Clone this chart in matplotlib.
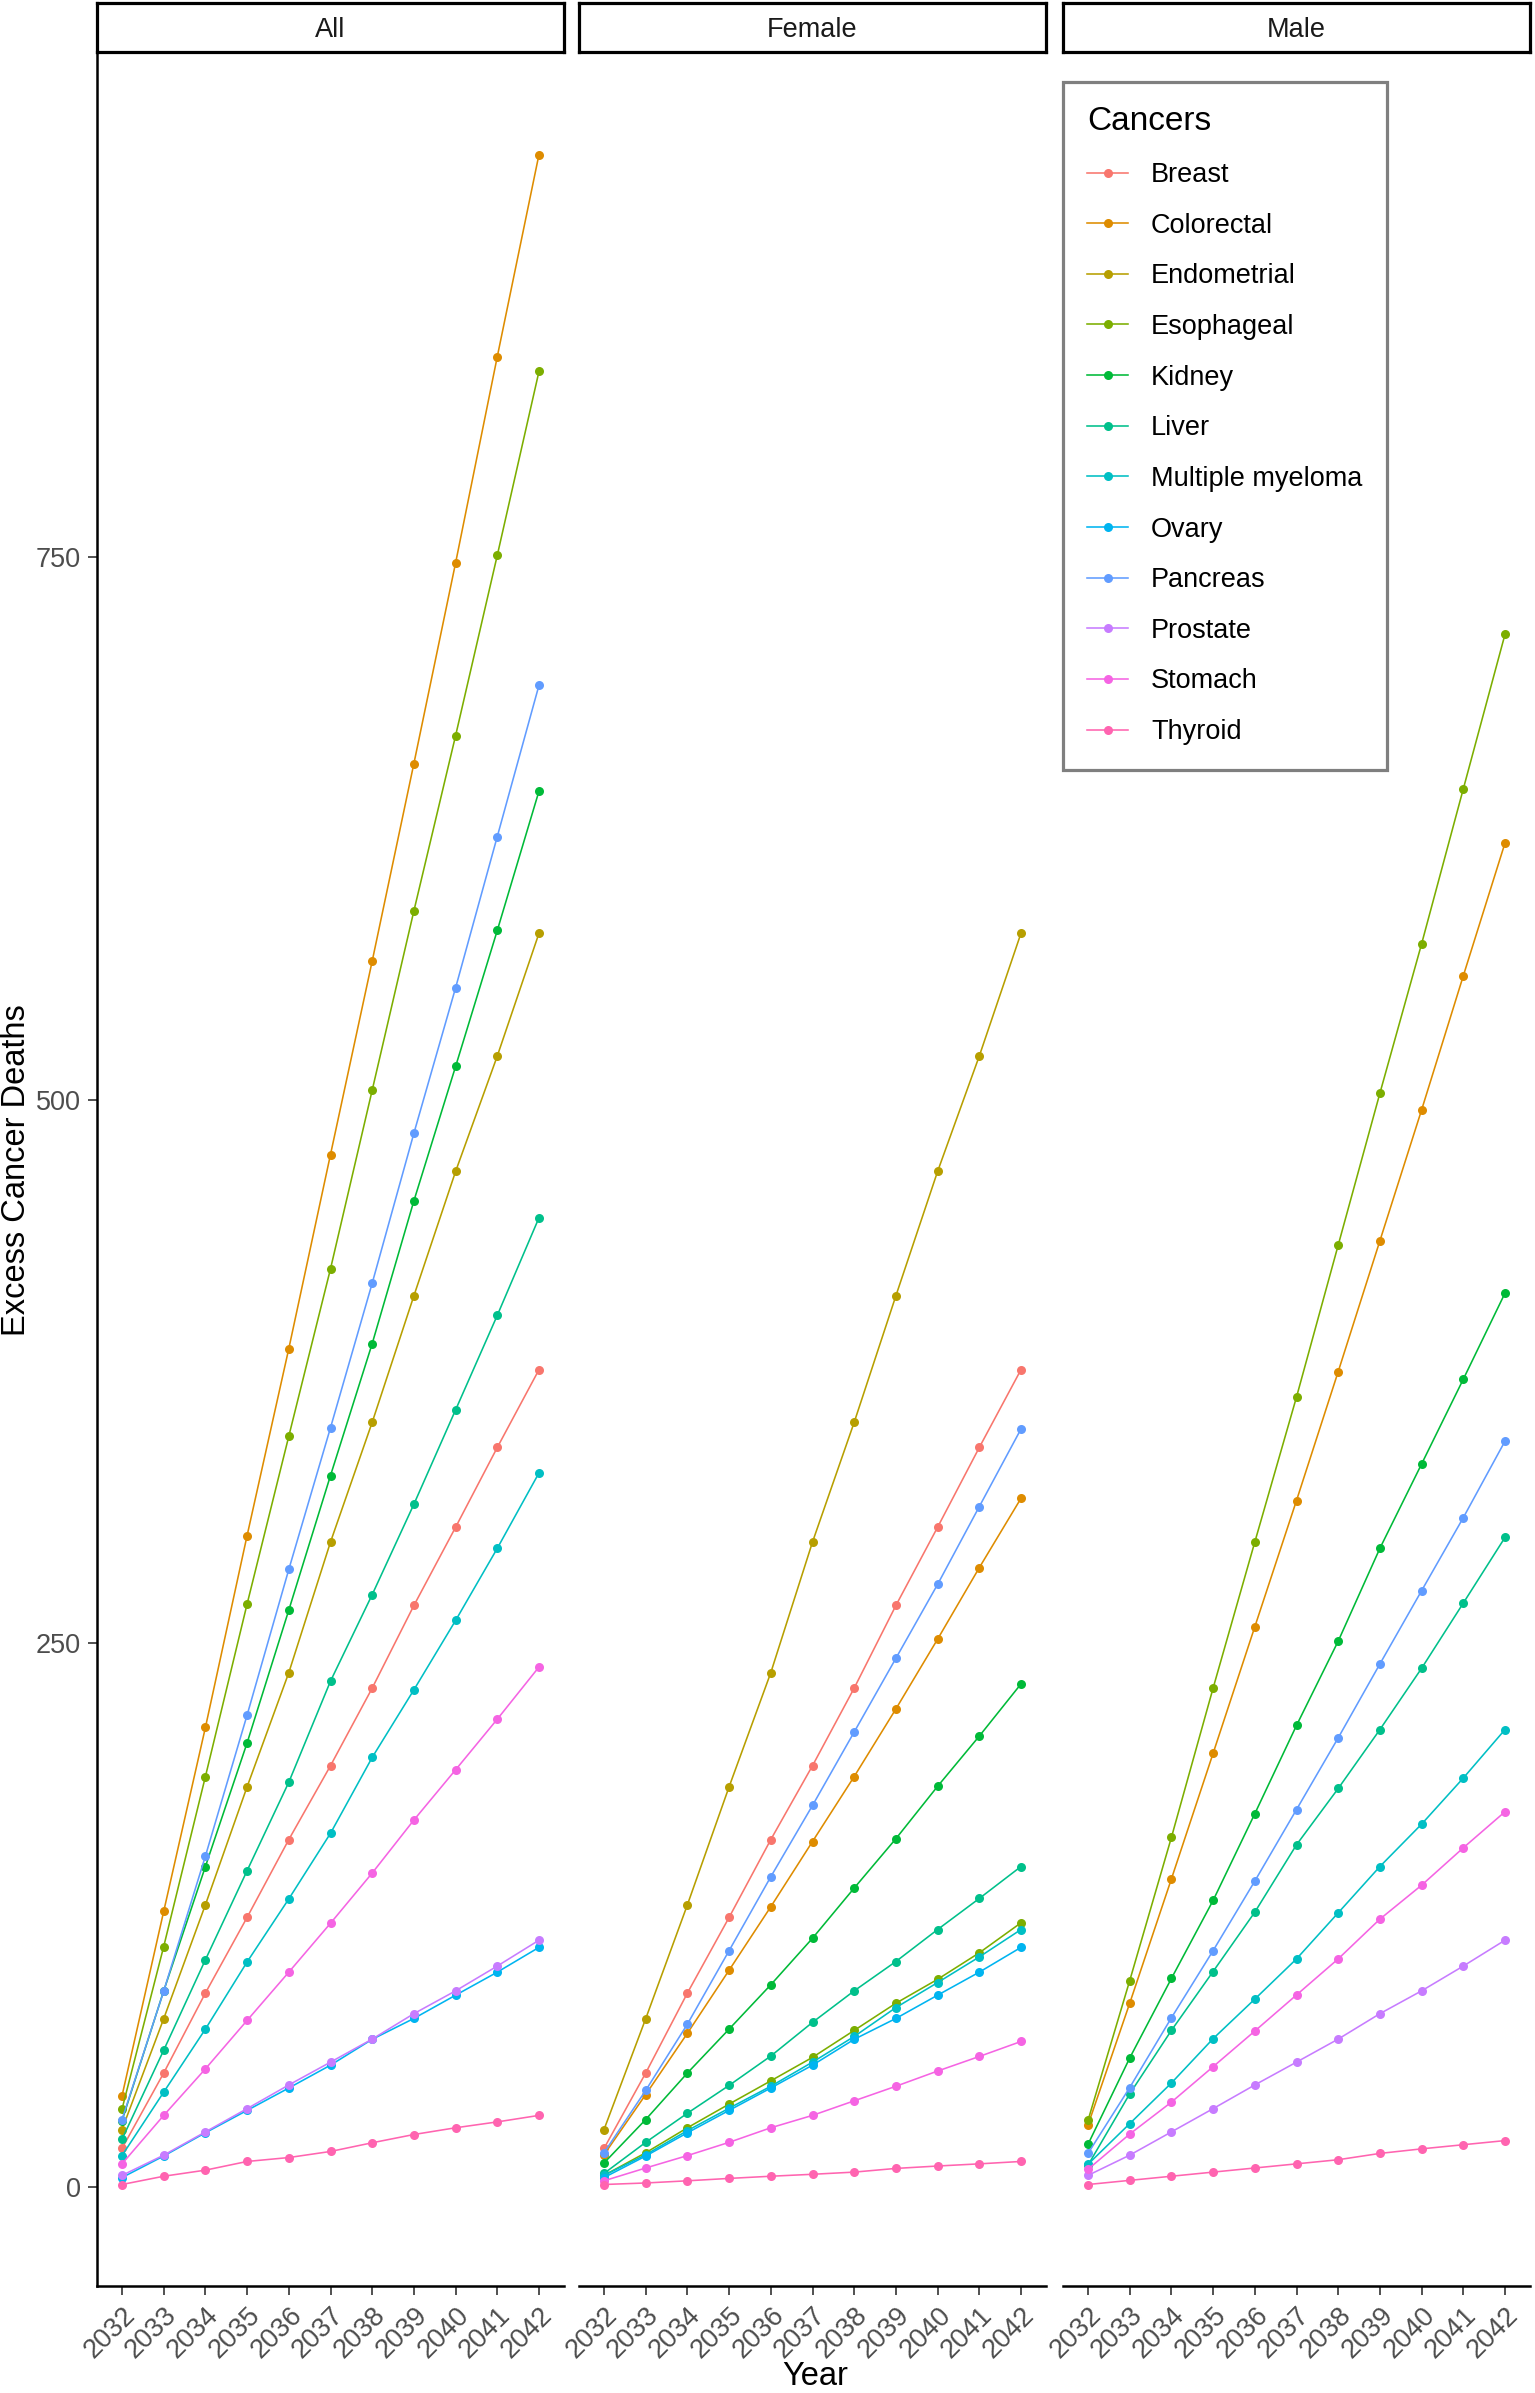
import matplotlib
matplotlib.use("Agg")
import matplotlib.pyplot as plt
from matplotlib.lines import Line2D

plt.rcParams['font.family'] = ['Liberation Sans', 'DejaVu Sans']

# ---------------- data ----------------
years = [2032, 2033, 2034, 2035, 2036, 2037, 2038, 2039, 2040, 2041, 2042]
year_labels = [str(y) for y in years]
panels = ["All", "Female", "Male"]
cancers = ["Breast", "Colorectal", "Endometrial", "Esophageal", "Kidney", "Liver",
           "Multiple myeloma", "Ovary", "Pancreas", "Prostate", "Stomach", "Thyroid"]
colors = ["#F8766D", "#DE8C00", "#B79F00", "#7CAE00", "#00BA38", "#00C08B",
          "#00BFC4", "#00B4F0", "#619CFF", "#C77CFF", "#F564E3", "#FF64B0"]

# All
all_breast = [17.6, 52.3, 89.1, 123.9, 159.7, 193.7, 229.4, 267.4, 303.4, 340.1, 375.9]
all_colorectal = [41.8, 126.7, 211.3, 299.6, 385.6, 474.9, 563.9, 654.8, 747.1, 842.0, 935.0]
all_endometrial = [26.3, 77.3, 129.7, 184.0, 236.5, 296.6, 351.7, 409.9, 467.1, 520.2, 576.7]
all_esophageal = [35.7, 110.5, 188.7, 268.1, 345.3, 422.3, 504.5, 587.0, 667.6, 750.6, 835.2]
all_kidney = [30.4, 90.1, 147.3, 204.2, 265.3, 327.2, 387.9, 453.6, 515.4, 578.0, 642.1]
all_liver = [21.8, 62.8, 104.4, 145.4, 186.1, 232.6, 272.4, 314.0, 357.4, 400.9, 445.8]
all_myeloma = [14.3, 43.5, 72.5, 103.4, 132.4, 162.6, 197.5, 228.6, 260.5, 293.7, 328.4]
all_ovary = [4.2, 14.1, 24.8, 35.1, 45.4, 55.9, 67.8, 77.4, 88.1, 98.7, 110.1]
all_pancreas = [30.9, 90.0, 152.1, 217.0, 284.0, 349.2, 415.7, 484.7, 551.6, 621.2, 690.8]
all_prostate = [5.2, 14.5, 25.2, 35.9, 46.8, 57.3, 67.9, 79.6, 90.1, 101.5, 113.4]
all_stomach = [10.5, 32.8, 54.2, 76.5, 98.7, 121.2, 144.3, 168.7, 191.8, 215.1, 239.1]
all_thyroid = [1.0, 4.8, 7.6, 11.6, 13.4, 16.2, 20.2, 24.0, 27.1, 29.8, 32.8]

# Female
female_breast = [17.6, 52.3, 89.1, 123.9, 159.7, 193.7, 229.4, 267.4, 303.4, 340.1, 375.9]
female_colorectal = [14.7, 42.4, 70.6, 99.6, 128.8, 158.8, 188.7, 219.8, 251.9, 284.8, 316.7]
female_endometrial = [26.3, 77.3, 129.7, 184.0, 236.5, 296.6, 351.7, 409.9, 467.1, 520.2, 576.7]
female_esophageal = [5.2, 15.6, 27.1, 38.0, 48.7, 59.5, 71.9, 84.4, 95.4, 107.6, 121.4]
female_kidney = [10.9, 30.9, 52.3, 72.5, 92.9, 114.3, 137.4, 160.1, 184.2, 207.3, 231.3]
female_liver = [6.1, 20.4, 33.8, 46.6, 60.1, 75.6, 90.1, 103.6, 118.3, 132.6, 147.3]
female_myeloma = [5.2, 14.7, 25.8, 36.1, 46.2, 57.3, 69.1, 82.4, 93.9, 105.7, 118.3]
female_ovary = [4.2, 14.1, 24.8, 35.1, 45.4, 55.9, 67.8, 77.4, 88.1, 98.7, 110.1]
female_pancreas = [15.6, 44.3, 74.8, 108.6, 142.6, 175.4, 209.2, 243.1, 277.1, 312.9, 348.6]
female_stomach = [2.7, 8.6, 14.3, 20.4, 27.1, 32.8, 39.5, 46.2, 53.2, 59.9, 66.8]
female_thyroid = [1.0, 1.7, 2.7, 3.8, 4.8, 5.7, 6.7, 8.4, 9.5, 10.5, 11.6]

# Male
male_colorectal = [28.4, 84.4, 141.6, 199.4, 257.6, 315.7, 375.0, 435.2, 495.4, 557.1, 618.2]
male_esophageal = [30.5, 94.8, 160.7, 229.4, 296.6, 363.3, 433.2, 503.1, 571.8, 643.1, 714.2]
male_kidney = [19.5, 59.2, 95.8, 131.7, 171.6, 212.2, 251.0, 293.7, 332.5, 371.5, 411.1]
male_liver = [9.9, 42.7, 71.9, 99.0, 126.3, 157.3, 183.2, 210.3, 238.5, 268.5, 298.7]
male_myeloma = [10.3, 29.0, 47.7, 68.1, 86.3, 104.8, 126.0, 147.3, 166.8, 188.0, 210.3]
male_pancreas = [15.3, 45.6, 77.7, 108.6, 140.6, 173.5, 206.5, 240.5, 274.2, 307.8, 343.0]
male_prostate = [5.2, 14.5, 25.2, 35.9, 46.8, 57.3, 67.9, 79.6, 90.1, 101.5, 113.4]
male_stomach = [8.0, 24.2, 38.9, 55.2, 71.6, 88.2, 104.8, 123.1, 138.7, 155.9, 172.5]
male_thyroid = [1.0, 2.9, 4.8, 6.7, 8.6, 10.5, 12.4, 15.3, 17.4, 19.3, 21.2]

y_ticks = [0, 250, 500, 750]

series = {
    "All": {"Breast": all_breast, "Colorectal": all_colorectal, "Endometrial": all_endometrial,
            "Esophageal": all_esophageal, "Kidney": all_kidney, "Liver": all_liver,
            "Multiple myeloma": all_myeloma, "Ovary": all_ovary, "Pancreas": all_pancreas,
            "Prostate": all_prostate, "Stomach": all_stomach, "Thyroid": all_thyroid},
    "Female": {"Breast": female_breast, "Colorectal": female_colorectal,
               "Endometrial": female_endometrial, "Esophageal": female_esophageal,
               "Kidney": female_kidney, "Liver": female_liver,
               "Multiple myeloma": female_myeloma, "Ovary": female_ovary,
               "Pancreas": female_pancreas, "Stomach": female_stomach,
               "Thyroid": female_thyroid},
    "Male": {"Colorectal": male_colorectal, "Esophageal": male_esophageal,
             "Kidney": male_kidney, "Liver": male_liver, "Multiple myeloma": male_myeloma,
             "Pancreas": male_pancreas, "Prostate": male_prostate, "Stomach": male_stomach,
             "Thyroid": male_thyroid},
}

# ---------------- layout ----------------
W, H = 1535, 2393
fig = plt.figure(figsize=(W / 100, H / 100), dpi=100)
fig.patch.set_facecolor("white")

panel_left = [97, 579, 1063]
panel_w = 467
plot_top, plot_bottom = 53, 2286
strip_top, strip_bottom = 3, 52

allvals = [v for p in series.values() for s in p.values() for v in s]
lo, hi = min(allvals), max(allvals)
pad = 0.05 * (hi - lo)
ylim = (lo - pad, hi + pad)

xpos = list(range(len(years)))
tick_color = "#4D4D4D"

for i, pname in enumerate(panels):
    ax = fig.add_axes([panel_left[i] / W, 1 - plot_bottom / H, panel_w / W,
                       (plot_bottom - plot_top) / H])
    for cname, col in zip(cancers, colors):
        if cname in series[pname]:
            ax.plot(xpos, series[pname][cname], color=col, lw=1.15, marker="o",
                    markersize=6.5, markeredgewidth=0, zorder=3)
    ax.set_xlim(-0.6, len(years) - 1 + 0.6)
    ax.set_ylim(*ylim)
    ax.set_xticks(xpos)
    ax.set_xticklabels(year_labels, rotation=45, ha="right", va="top",
                       rotation_mode="anchor", fontsize=19.5, color=tick_color)
    ax.spines["top"].set_visible(False)
    ax.spines["right"].set_visible(False)
    ax.spines["bottom"].set_linewidth(1.8)
    ax.spines["left"].set_linewidth(1.8)
    ax.tick_params(axis="x", length=6.5, width=1.2, color="#333333", pad=5)
    if i == 0:
        ax.set_yticks(y_ticks)
        ax.set_yticklabels([str(t) for t in y_ticks], fontsize=19.5, color=tick_color)
        ax.tick_params(axis="y", length=6.5, width=1.2, color="#333333", pad=5)
    else:
        ax.spines["left"].set_visible(False)
        ax.set_yticks([])
    ax.set_facecolor("white")

    # strip
    sax = fig.add_axes([panel_left[i] / W, 1 - strip_bottom / H, panel_w / W,
                        (strip_bottom - strip_top) / H])
    sax.set_xticks([])
    sax.set_yticks([])
    for sp in sax.spines.values():
        sp.set_linewidth(2.3)
        sp.set_color("black")
    sax.text(0.5, 0.45, pname, ha="center", va="center", fontsize=19.5,
             color="#1A1A1A", transform=sax.transAxes)

# axis titles
fig.text(17 / W, 1 - 1170 / H, "Excess Cancer Deaths", rotation=90, ha="center",
         va="center", fontsize=23.5, color="black")
fig.text(815 / W, 1 - 2392 / H, "Year", ha="center", va="bottom", fontsize=23.5,
         color="black")

# legend
handles = [Line2D([0], [0], color=c, lw=1.15, marker="o", markersize=6.5,
                  markeredgewidth=0) for c in colors]
leg = fig.legend(handles, cancers, loc="upper left",
                 bbox_to_anchor=(1063 / W, 1 - 82 / H), frameon=True,
                 fancybox=False, edgecolor="#7F7F7F", framealpha=1,
                 title="Cancers", alignment="left", fontsize=19.5, title_fontsize=24,
                 handlelength=1.5, handletextpad=0.85, labelspacing=0.91,
                 borderpad=0.9, borderaxespad=0)
leg.get_frame().set_linewidth(2.3)

fig.savefig("out.png", dpi=100, facecolor="white")
